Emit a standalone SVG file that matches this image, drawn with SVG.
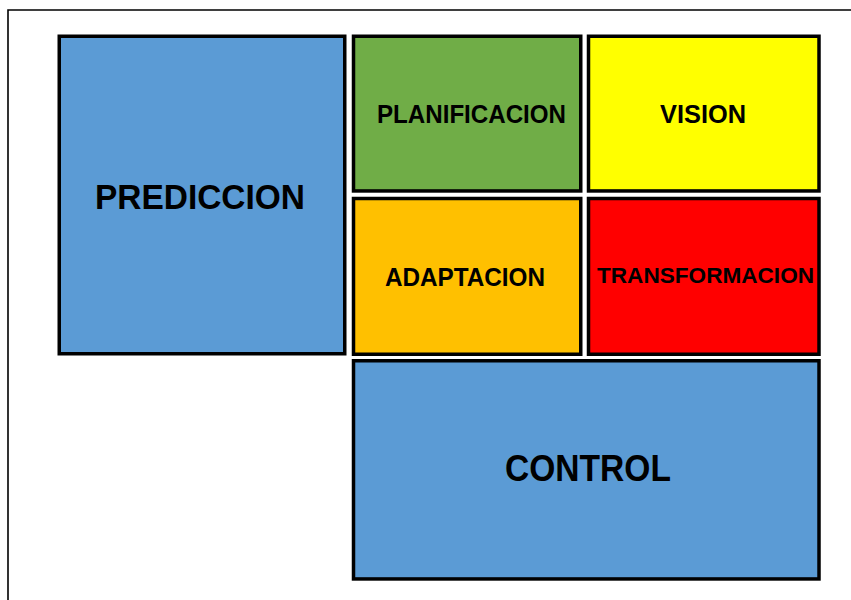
<svg xmlns="http://www.w3.org/2000/svg" width="851" height="600" viewBox="0 0 851 600">
  <style>
    .box { stroke: #000; stroke-width: 3.5; }
    .lbl { font-family: "Liberation Sans", Arial, sans-serif; font-weight: bold; fill: #000; }
  </style>
  <rect x="0" y="0" width="851" height="600" fill="#fff"/>
  <g id="frame">
    <path d="M8 600 V10 H851" fill="none" stroke="#000" stroke-width="1.6"/>
  </g>
  <g id="prediccion">
    <rect class="box" x="59.25" y="36.25" width="285.5" height="317.5" fill="#5B9BD5"/>
    <text class="lbl" x="95" y="208.5" font-size="35" textLength="210" lengthAdjust="spacingAndGlyphs">PREDICCION</text>
  </g>
  <g id="planificacion">
    <rect class="box" x="353.5" y="36.25" width="227.25" height="154.7" fill="#70AD47"/>
    <text class="lbl" x="377" y="123.3" font-size="25.5" textLength="189" lengthAdjust="spacingAndGlyphs">PLANIFICACION</text>
  </g>
  <g id="vision">
    <rect class="box" x="588.5" y="36.25" width="230.5" height="154.7" fill="#FFFF00"/>
    <text class="lbl" x="660" y="123.3" font-size="25.5" textLength="86" lengthAdjust="spacingAndGlyphs">VISION</text>
  </g>
  <g id="adaptacion">
    <rect class="box" x="353.5" y="198.5" width="227.25" height="155.75" fill="#FFC000"/>
    <text class="lbl" x="385" y="286.3" font-size="25.5" textLength="160" lengthAdjust="spacingAndGlyphs">ADAPTACION</text>
  </g>
  <g id="transformacion">
    <rect class="box" x="588.5" y="198.5" width="230.5" height="155.75" fill="#FF0000"/>
    <text class="lbl" x="597" y="282.7" font-size="22.5" textLength="217" lengthAdjust="spacingAndGlyphs">TRANSFORMACION</text>
  </g>
  <g id="control">
    <rect class="box" x="353.5" y="360.75" width="465.5" height="218.2" fill="#5B9BD5"/>
    <text class="lbl" x="505" y="481" font-size="37" textLength="166" lengthAdjust="spacingAndGlyphs">CONTROL</text>
  </g>
  <g id="connectors"/>
</svg>
